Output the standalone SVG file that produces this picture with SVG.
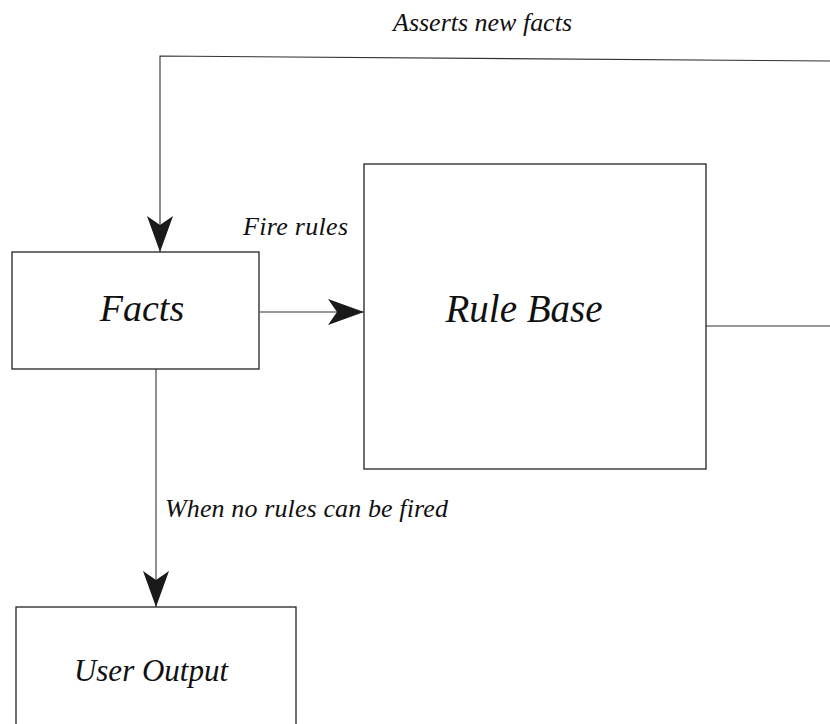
<svg xmlns="http://www.w3.org/2000/svg" width="830" height="724" viewBox="0 0 830 724">
  <style>
    .box { fill: #fff; stroke: #222; stroke-width: 1.3; }
    .wire { fill: none; stroke: #333; stroke-width: 1.1; }
    .title { font-family: "Liberation Serif", "Times New Roman", serif; font-style: italic; fill: #111; text-anchor: middle; }
    .label { font-family: "Liberation Serif", "Times New Roman", serif; font-style: italic; fill: #111; font-size: 26px; }
  </style>
  <defs>
    <marker id="barb" viewBox="0 0 36 26" refX="36" refY="13" markerWidth="36" markerHeight="26" markerUnits="userSpaceOnUse" orient="auto">
      <path d="M0,0 L36,13 L0,26 L9,13 Z" fill="#1a1a1a"/>
    </marker>
  </defs>
  <rect width="830" height="724" fill="#fff"/>

  <g id="connectors">
    <!-- feedback loop: Rule Base asserts new facts -->
    <path class="wire" d="M706,326 L830,326"/>
    <path class="wire" d="M830,61 L160,56 L160,252" marker-end="url(#barb)"/>
    <!-- Facts fire rules -->
    <path class="wire" d="M260,312 L364,312" marker-end="url(#barb)"/>
    <!-- Facts to user output -->
    <path class="wire" d="M156,369 L156,607" marker-end="url(#barb)"/>
  </g>

  <g id="facts">
    <rect class="box" x="12" y="252" width="247" height="117"/>
    <text class="title" x="142" y="321" font-size="38">Facts</text>
  </g>

  <g id="rule-base">
    <rect class="box" x="364" y="164" width="342" height="305"/>
    <text class="title" x="524" y="322" font-size="39">Rule Base</text>
  </g>

  <g id="user-output">
    <rect class="box" x="16" y="607" width="280" height="130"/>
    <text class="title" x="151" y="681" font-size="31">User Output</text>
  </g>

  <g id="labels">
    <text class="label" x="393" y="31" textLength="179" lengthAdjust="spacing">Asserts new facts</text>
    <text class="label" x="243" y="235" textLength="105" lengthAdjust="spacing">Fire rules</text>
    <text class="label" x="165" y="517" textLength="283" lengthAdjust="spacing">When no rules can be fired</text>
  </g>
</svg>
